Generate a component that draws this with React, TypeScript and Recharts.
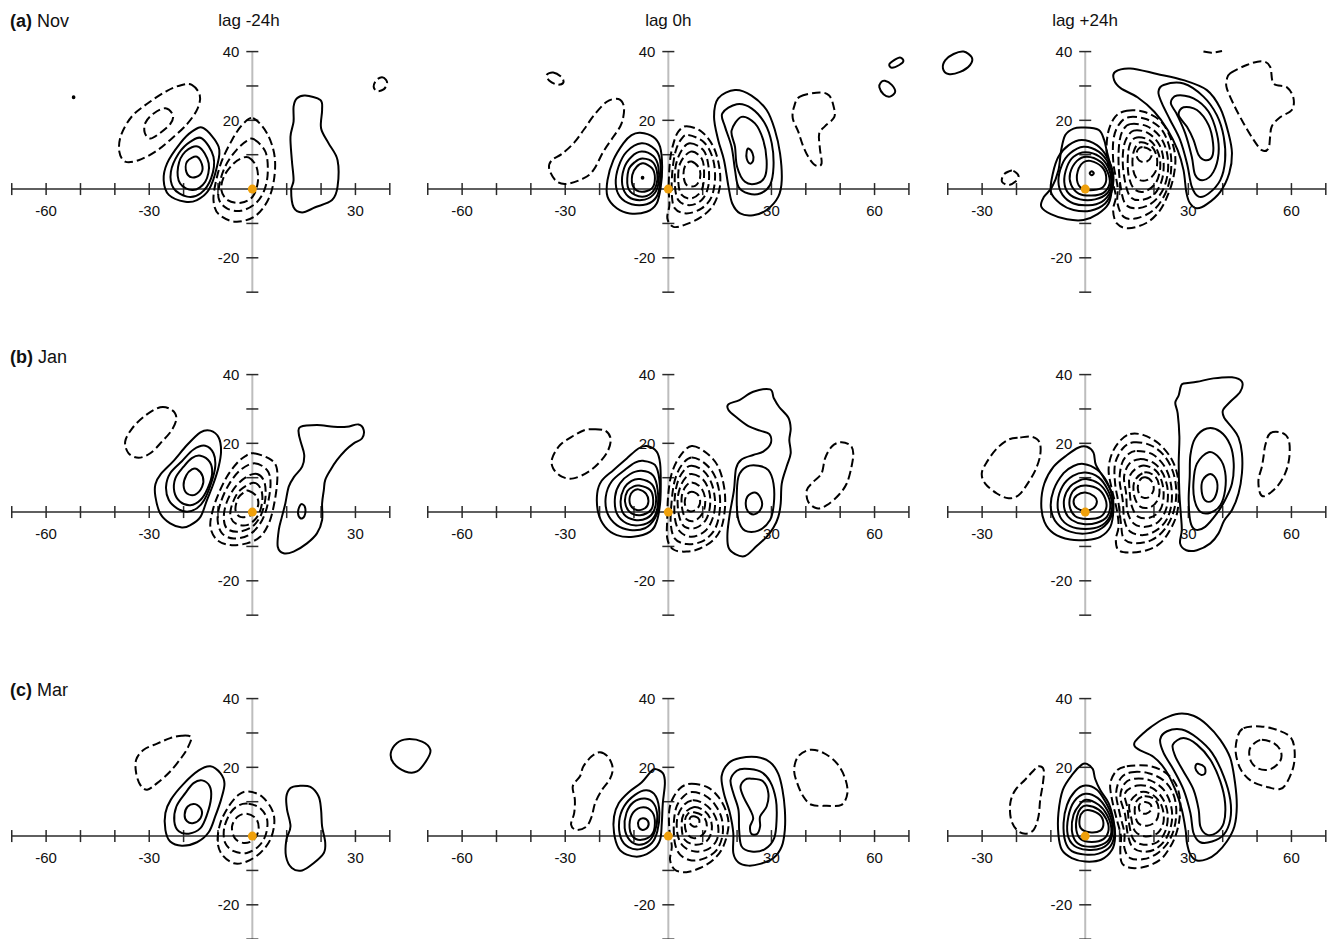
import React from 'react';
import { ComposedChart, Line, XAxis, YAxis, ReferenceLine, ReferenceDot } from 'recharts';

// ---------- data: contour loops as flat [x1,y1,x2,y2,...] (deg lon, deg lat) ----------
// (a) Nov
const novM24Pos = [
  [-14.2,17.7, -9.8,12.3, -10.3,6.5, -12.7,-0.3, -16.1,-3.2, -19.5,-3.7, -24.3,-1.7, -25.8,2.6, -24.8,7.5, -21,13.3, -17.6,16.7],
  [-14.6,14.7, -11.3,9.4, -12,3.1, -15.1,-1.3, -19,-2.2, -22.9,0.2, -23.7,5, -21.4,10.4, -18,13.8],
  [-15.6,12.3, -12.7,7.5, -13.7,2.1, -17.3,-0.3, -21,1.6, -21.6,6.5, -19.5,10.9],
  [-16.1,9.4, -14.5,6.5, -15.3,4.1, -17.6,3.4, -19.2,5, -19,8],
  [15.4,27.2, 19.8,25.9, 20.3,23, 20,17.7, 22.2,13.3, 24.8,8.4, 24.8,0.7, 23.2,-3.2, 18.3,-5.3, 14.5,-6.8, 12,-5.3, 11.3,-0.3, 12,2.6, 11.5,8.4, 11.1,15.2, 12,19.6, 12,24, 13,26.4],
  [-52,27, -51.75,26.7, -52,26.4, -52.25,26.7],
];
const novM24Neg = [
  [-17.6,30.3, -15.3,27.4, -15.9,23.5, -19,18.9, -23.9,14.3, -28.2,10.9, -33.1,8.4, -37,8, -38.7,10.9, -38.2,15.7, -35,21.2, -30.2,25.1, -24.8,28.6, -20.5,30.3],
  [-25.3,23.5, -23.1,21.5, -23.9,18.9, -27,16.2, -29.7,14.7, -31.3,16.4, -31.1,19.3, -28.7,22],
  [0.2,20.6, 4.3,16.2, 6.5,9.4, 6.2,2.1, 4.3,-3.7, 0.6,-8, -4.9,-9.5, -9.8,-7.3, -11.3,-3.2, -10.5,2.6, -8.8,8.4, -5.9,14.3, -3,18.6],
  [0.4,14.5, 3.8,10.9, 4.5,5, 3.5,-0.3, 0.9,-4.2, -3.3,-6.3, -7.4,-5.6, -9.8,-2.7, -9.3,2.6, -7.4,7.5, -4.5,11.5, -1.6,14],
  [-1.1,9.2, 1.2,6.5, 1.6,2.1, 0.1,-2.2, -3.3,-4, -7.2,-3.2, -9,-0.3, -8.3,3.6, -5.9,7, -3.5,8.8],
  [37.7,32.5, 38.9,31.8, 39.2,30.6, 38.2,29, 36.3,28.5, 35.3,29.8, 36.1,31.7],
];
const nov0Pos = [
  [-8.2,16.4, -4.4,15.2, -2.4,12.3, -1.8,6.5, -2.2,0.7, -3.4,-4.2, -6.3,-6.6, -11.2,-7.1, -15,-5.6, -17.7,-2.2, -17.7,2.6, -16,8.4, -13.1,13.3, -10.7,15.7],
  [-7.8,13.3, -3.9,11.6, -2.4,8.4, -2.4,2.1, -3.4,-2.2, -6.3,-4.4, -10.7,-4.4, -14.1,-2.2, -15.3,1.6, -14.5,6.5, -12.1,10.9],
  [-7.8,10.9, -4.4,9.6, -2.9,6.5, -2.9,1.6, -4.4,-1.7, -7.8,-3.2, -11.6,-2.2, -13.4,1.2, -12.9,6, -10.7,9.4],
  [-7.5,8.9, -4.4,7.7, -3.2,4.1, -3.9,0.2, -6.3,-2, -9.7,-1.7, -11.8,0.7, -11.6,5.5, -9.7,7.9],
  [-7.3,7.5, -4.7,6, -3.9,3.1, -4.8,0.2, -7.8,-0.8, -10.2,0.7, -10.5,4.1, -9.2,6.5],
  [-7.5,3.6, -7.25,3.3, -7.5,3.0, -7.75,3.3],
  [19.4,28.8, 24.2,27.2, 28.6,23, 31,17.2, 32.5,10.4, 33,2.6, 32,-2.2, 28.6,-6.1, 24.7,-7.6, 20.9,-7.1, 18.6,-4.2, 17.5,0.7, 16.2,8.4, 14.5,14.3, 13.3,21, 14.5,26.4],
  [19.9,24.7, 24.2,23.5, 28.1,19.1, 30.1,13.3, 30.6,6.5, 29.6,1.2, 26.7,-1.3, 23.3,-1.3, 20.4,0.7, 19.4,5.5, 18.4,12.3, 16.5,18.1, 15.7,22],
  [21.3,21, 25.2,19.1, 27.6,14.3, 28.6,8.4, 28.1,3.6, 25.7,1.6, 22.3,2.1, 20,6.5, 19.4,12.3, 18.4,17],
  [23.3,11.8, 24.5,10.4, 24.7,8.4, 23.8,7.4, 22.8,8.9, 22.8,10.9],
  [67.4,38.3, 68.4,37.3, 67.2,36.1, 65,35.3, 64.3,36.3, 65.7,37.5],
  [63,31.5, 65,30.3, 66,28.3, 64.5,26.9, 62.6,27.6, 61.4,29.6, 61.8,31],
];
const nov0Neg = [
  [5.3,18.3, 9.7,16.7, 13.1,12.3, 14.8,6.5, 15,0.7, 13.1,-4.7, 9.7,-8, 5.3,-10.2, 1.5,-11, -0.3,-8.5, 0.3,-4.7, 0.1,0.7, 0.5,8.4, 1.5,13.3, 2.9,16.7],
  [5.8,15.7, 10.2,13.8, 12.8,9.4, 13.6,3.6, 12.6,-2.2, 9.7,-5.6, 5.3,-7.1, 1.9,-5.6, 1,-1.3, 1.2,5.5, 2.2,11.3, 3.9,14.7],
  [6.3,13.3, 10.2,11.3, 11.7,6.5, 11.6,0.7, 9.7,-3.2, 6.1,-4.7, 2.9,-3.2, 1.9,1.2, 2.2,7, 3.9,11.3],
  [6.5,10.9, 9.7,8.9, 10.4,4.6, 9.7,-0.3, 6.8,-2.7, 3.9,-1.7, 2.9,2.1, 3.4,7.4],
  [6.8,8, 9,6, 9.2,3.1, 7.8,0.9, 5.3,1.2, 4.4,4.1, 5,7],
  [38.3,26.9, 44.1,28.1, 46.8,27.2, 48,24.4, 48.3,21, 45.6,18.3, 43.9,16.2, 44.1,11.8, 44.6,7.5, 43.2,6.7, 41.2,8.6, 39.3,12.3, 37.8,16.7, 36.2,20.6, 36.6,24],
  [-14.5,26.2, -12.9,23.8, -13.6,19.1, -16,15.2, -18.9,10.9, -21.8,5.5, -24.7,3.1, -29.6,1.5, -32.7,2.4, -34.7,6, -33.9,8.4, -31,10.2, -27.4,13.5, -24.5,17.4, -21.6,21.5, -17.9,25.4],
  [-33.5,33.9, -31,32.5, -30.6,30.9, -32.3,30.4, -34.6,31.5, -35.4,33.2],
];
const nov24Pos = [
  [-0.5,17.9, 3.9,17.2, 5.5,14.3, 6.3,10.9, 7.5,6, 7.8,0.7, 6.8,-4.2, 3.6,-7.3, -0.5,-9, -5.3,-8.8, -10,-7.3, -12.8,-5.1, -12.1,-2.4, -9.7,0.5, -7.8,5.5, -7,11.3, -5.8,15.7, -3.4,17.6],
  [-1,14.3, 3.4,12.8, 6.3,9.4, 8.1,4.6, 7.8,-0.3, 5.8,-4.2, 1.5,-6.3, -3.4,-6.1, -7.3,-4.2, -10,-0.8, -9.4,4.6, -7.8,9.4, -4.8,12.8],
  [-0.5,12.3, 3.9,10.9, 6.8,7.5, 8.1,3.6, 7.3,-0.8, 4.8,-3.7, 1,-4.7, -3.4,-4.2, -6.6,-1.7, -7.8,2.1, -6.8,7, -4.4,10.4],
  [0,10.7, 4.2,9.4, 6.8,6, 7.6,2.1, 6.3,-1.3, 2.9,-3, -1.5,-3, -4.8,-1.3, -6.1,2.1, -5.3,6.5, -3.4,9.4],
  [0.5,9.4, 4.4,8, 6.5,5, 7.1,1.6, 5.3,-1.1, 1.9,-1.9, -1.9,-1.3, -4.1,1.2, -4.4,4.6, -2.4,8.2],
  [1.5,8.2, 4.8,6.5, 6.1,3.6, 5.3,0.7, 2.4,-0.3, -1,0.2, -2.4,2.6, -1.9,6, -0.5,7.8],
  [1.9,5.2, 2.5,4.6, 1.9,4.0, 1.3,4.6],
  [8.7,34.1, 13.1,35.1, 20.9,33.5, 28.6,31.7, 35.4,28.8, 39.3,23.5, 41.7,16.2, 42.7,10.4, 41.9,4.6, 39.3,-0.8, 35.4,-4.4, 32.5,-5.6, 30.4,-4, 29.4,-0.8, 28.6,5.5, 26.9,11.3, 24,17.2, 20.1,22.5, 15.2,26.7, 10.4,29.3, 8.4,31.7],
  [22.8,30.3, 28.6,30.7, 34.4,26.9, 38.3,21.5, 40.3,15.2, 40.7,8.4, 39.3,2.6, 35.9,-1.3, 33,-2.2, 31,0.7, 29.6,7.5, 27.6,14.3, 24.7,20.1, 22.3,25, 21.3,28.3],
  [26.7,27.2, 31.5,26.4, 35.9,22.5, 38.3,16.2, 38.8,10.4, 37.3,5, 34.4,2.6, 32,4.1, 31,9.4, 29.1,16.2, 26.7,21.7, 24.9,25.1],
  [28.6,23.8, 32.5,23, 35.9,18.6, 37.2,13.3, 36.9,9.4, 34.9,8.4, 33,9.9, 31.5,14.3, 29.6,18.1, 27.2,21.5],
  [-35.4,40, -33,38.3, -33.5,36.1, -36.4,34.1, -39.8,33.5, -41.4,35.1, -40.7,37.5, -38.3,39.3],
];
const nov24Neg = [
  [12.1,22.8, 17,22.5, 21.8,19.9, 24.7,15.2, 26.2,9.4, 25.7,3.6, 24.2,-1.3, 21.8,-6.1, 17.9,-9.8, 12.6,-11.4, 9.2,-10, 8.1,-6.1, 8.9,-2.2, 7.8,2.6, 6.3,9.4, 6.6,16.2, 8.7,21],
  [12.6,20.9, 17.9,20.3, 22.3,17.2, 24.7,11.3, 24.9,4.6, 23.3,-1.3, 19.9,-6.1, 15,-8.5, 11.2,-8.1, 9.4,-4.2, 9.4,0.7, 8.2,7.5, 8.2,14.3, 9.7,18.6],
  [13.1,18.9, 17.9,18.3, 21.8,15.2, 23.8,10.4, 24,4.6, 22.3,-0.8, 18.9,-4.4, 14.5,-5.6, 11.6,-4.2, 10.3,0.7, 9.7,7.5, 9.9,13.3, 10.9,17],
  [14.1,17, 18.4,16.2, 21.6,12.8, 22.8,8, 22.3,2.6, 19.9,-1.7, 16,-3.2, 13.1,-2.2, 11.6,2.1, 10.9,8.4, 11.6,13.8],
  [15,15, 18.9,14.1, 21.3,10.4, 21.8,6, 20.4,1.6, 17,-0.8, 14.1,0.2, 12.6,4.1, 12.4,9.4, 13.1,13.3],
  [16,13.6, 19.4,12.3, 20.9,8.9, 20.4,5, 17.9,2.6, 15,3.1, 13.8,6.5, 14.1,10.9],
  [17,12.2, 18.9,11.3, 19.2,9.4, 17.7,7.9, 15.7,8.3, 14.9,10, 15.5,11.7],
  [42.2,33.7, 47,36.1, 51.4,37.2, 53.8,35.6, 54.8,30.7, 58.7,29.6, 60.6,26.4, 60.1,23, 56.7,20.9, 54.3,18.3, 53.8,15.2, 53.3,11.8, 51.4,11.3, 49,14.3, 46.1,19.1, 43.4,24.2, 41.2,29.3, 41.2,31.9],
  [-20.9,5.3, -19.4,3.8, -20.4,2.1, -22.3,1.2, -24.2,2.1, -23.8,4.1, -22.3,5.1],
];
const nov24NegOpen = [
  [34.4,40, 36.9,39.7, 39.8,40.2],
];

// (b) Jan
const janM24Pos = [
  [-12.2,23.7, -9.8,21.7, -9.1,17.8, -9.8,13.2, -11.3,8.3, -13.2,3.5, -15.1,-1.4, -18,-3.8, -20.5,-4.5, -23.9,-3.3, -26.8,-0.4, -28.2,4.5, -28.2,8.1, -26.6,11.1, -22.9,14.9, -19,19.5, -15.1,23.2],
  [-13.7,19.3, -11.3,17.1, -10.8,13.2, -12,8.3, -14,3.5, -16.1,1.1, -19,0.1, -21.9,1.1, -24.3,3.5, -25.1,7.4, -23.9,11.3, -20.5,14.8, -17.1,18.2],
  [-15.1,16.4, -12.4,14.6, -11.7,11.2, -13,6.9, -15.1,3.5, -18,2, -21,3, -22.7,5.9, -22.4,9.8, -20,13.2, -17.6,15.7],
  [-16.1,12.5, -14.4,10.3, -14.6,7.4, -16.6,5.1, -19,5.4, -20,7.8, -19.2,10.7, -17.6,12.4],
  [14,24.8, 18.8,25.3, 23.7,24.8, 27.5,24.8, 30.9,25.5, 32.4,23.9, 31.9,21.4, 29.5,20, 27.1,18, 24.6,15.1, 22.7,12.2, 21.2,9.3, 20.8,6.4, 20.3,2.5, 20.3,-2.3, 18.8,-6.2, 15.9,-9.1, 12,-11.5, 9.1,-12, 7.4,-10.1, 7.7,-5.2, 8.6,-1.4, 9.6,2.5, 10.6,7.4, 12.2,10.3, 14.5,13.2, 15.1,16.6, 14.2,20, 13.5,22.9],
  [14.5,2.3, 15.4,1.1, 15.1,-1.3, 14,-1.8, 13.3,-0.4, 13.7,1.6],
];
const janM24Neg = [
  [-26.8,30.5, -23.4,29.7, -22.1,27.3, -23.4,23.9, -26.3,20.5, -29.7,17.1, -33.1,15.8, -36,17.1, -37,20.5, -35,24.3, -31.4,27.9],
  [0.4,17.1, 4.8,15.6, 7,13.2, 7.2,8.3, 6.2,1.6, 4.8,-3.3, 2.3,-7.2, -1.6,-9.1, -6.4,-9.6, -10.3,-8.1, -12.2,-4.3, -11.5,0.6, -9.8,5.4, -7.4,10.3, -4.5,14.2, -2,16.3],
  [0.6,14.2, 4.3,12.2, 5.3,8.3, 4.3,1.6, 2.3,-3.3, -1.1,-6.7, -5.4,-7.7, -8.8,-6.2, -10.1,-2.3, -9.3,2.5, -6.9,7.9, -3.5,12.2],
  [1.4,11.1, 3.5,8.8, 3.8,4, 2.5,-0.9, -0.1,-4.3, -4,-5.7, -7.4,-4.8, -8.3,-1.4, -7.4,3, -4.9,7.4, -1.6,10.3],
  [0.4,8.5, 2.6,6.4, 2.8,2.5, 1.4,-1.4, -1.6,-3.8, -4.9,-3.3, -6.4,-0.9, -5.6,3, -3.5,6.4],
  [-1.1,6.2, 1.3,4.5, 1.6,1.6, -0.4,-0.9, -3.5,-1.4, -4.9,0.6, -4.2,4, -2.5,5.7],
];
const jan0Pos = [
  [-6.3,19.2, -3.4,17.6, -2.4,14.2, -2.2,8.3, -2.4,2.5, -3.4,-2.8, -5.3,-5.7, -10.2,-7.2, -15,-6.7, -18.4,-4.3, -20.4,-0.2, -20.7,5.4, -19.4,9.1, -16,12.2, -12.1,15.6, -8.7,18.5],
  [-7.3,14.9, -3.9,13.7, -2.6,9.3, -2.6,2.5, -3.9,-1.8, -6.8,-4.7, -11.2,-5.2, -15,-3.8, -17.7,-0.4, -18.2,4.5, -16.5,8.9, -12.6,12.3, -9.7,14.4],
  [-7.8,12, -4.4,10.6, -3.1,6.4, -3.2,1.1, -4.8,-2.3, -8.2,-3.8, -12.1,-3.3, -15,-0.4, -15.5,4.5, -14.1,8.3, -11.2,11],
  [-8.2,9.6, -4.8,8.1, -3.6,4.5, -4.1,0.6, -6.3,-1.8, -9.7,-2.3, -12.9,-0.7, -13.9,3, -12.9,6.9, -10.7,9.1],
  [-8.5,7.7, -5.3,6.4, -4.4,3.5, -5.1,0.6, -8.2,-0.9, -11.3,0.1, -12.6,3, -11.9,6.1, -10.2,7.4],
  [-8.7,6.6, -6.5,5.4, -5.8,3, -6.8,1.1, -9.2,0.6, -11,2, -11.2,4.5, -10.2,6.1],
  [24.7,35, 29.6,35.7, 30.7,33.1, 32.3,30.5, 34.9,27.5, 35.6,24.3, 35.2,21, 35.6,17.1, 34.4,13.2, 33,8.3, 32.7,2.5, 32,-1.4, 30.6,-4.5, 28.6,-7.2, 25.7,-9.9, 22.3,-12.8, 19.4,-12.2, 17.5,-10.3, 17.2,-6.2, 17.9,-0.4, 19.1,6.4, 19.7,12.7, 21.3,15.3, 24.7,16.6, 27.6,17.6, 29.8,20, 29.4,22.7, 26.7,23.7, 23.3,25, 19.9,27.5, 17.5,29.7, 17.5,31.4, 20.7,32.6],
  [26.2,13.5, 29.1,12.2, 30.6,8.3, 30.7,2.5, 29.6,-2.3, 26.2,-5.4, 22.3,-5.4, 20.4,-2.3, 19.9,3.5, 20.4,10.3, 22.8,13.2],
  [25.2,5.7, 26.9,4, 27.2,1.6, 25.7,-0.4, 23.8,-0.4, 22.6,1.6, 23,4.5],
];
const jan0Neg = [
  [6.8,19.2, 11.2,17.1, 14.5,13.2, 16.2,7.4, 16.5,1.6, 15.5,-4.3, 13.1,-8.1, 9.2,-10.6, 5.3,-11.5, 1.5,-10.9, -0.3,-7.7, -0.3,-1.4, 0,5.4, 1,11.3, 3.4,16.3],
  [6.8,15.9, 10.7,14.1, 13.6,10.3, 15,4.5, 14.7,-1.4, 13.1,-5.7, 9.7,-8.6, 5.3,-9.3, 1.9,-7.7, 0.7,-3.3, 1,3.5, 1.9,9.3, 3.9,13.7],
  [6.8,13.5, 10.2,12, 12.6,8.3, 13.6,3, 12.9,-1.8, 10.7,-5.5, 6.8,-7.2, 3.4,-5.7, 1.9,-1.8, 1.9,4.5, 2.9,9.3, 4.8,12.4],
  [6.8,11.1, 10,9.6, 11.9,5.9, 12.1,1.6, 10.9,-2.3, 8,-4.6, 4.8,-4.3, 3.2,-1.4, 2.7,3.5, 3.5,7.4, 5.1,10.1],
  [6.8,8.6, 9.4,7.2, 10.7,4, 10.2,0.1, 7.8,-2.5, 5.3,-2.1, 4.1,0.6, 3.9,4.5, 5,7.4],
  [6.8,5.9, 8.8,4.8, 9.2,2.5, 8,0.6, 5.8,0.4, 4.8,2.5, 5.3,4.9],
  [-21.8,24.1, -18.4,23.7, -16.8,21.4, -17.5,18, -19.9,14.6, -23.3,11.7, -27.6,9.8, -31,10.3, -33.5,12.7, -33.8,15.6, -31.5,19.5, -27.6,22.2, -24.2,23.9],
  [50,20.3, 52.9,19.5, 53.8,17.1, 53.3,13.2, 51.9,8.3, 49.5,4.9, 46.1,2, 43.2,1.1, 40.7,3, 40.3,6.4, 42.2,8.8, 44.6,11.3, 45.6,15.6, 47.5,19],
];
const jan24Pos = [
  [0.5,19, 2.4,17.3, 3.1,13.7, 5.3,10.1, 7.8,5.4, 8.2,0.6, 7.3,-4.3, 4.4,-7.2, 0.5,-8.1, -4.4,-8, -9.2,-6.2, -11.9,-2.8, -12.8,2.5, -11.9,8.3, -9.2,13.2, -5.3,16.6, -1.9,18.8],
  [-0.5,14, 3.4,12.4, 6.3,8.8, 8,3.5, 7.5,-1.4, 4.8,-4.7, 0.5,-6.2, -4.4,-5.7, -8.2,-3.3, -10,1.1, -9.2,6.4, -6.3,11.3, -3.4,13.4],
  [0,11.5, 3.9,10.1, 6.5,6.6, 7.8,2.5, 7.1,-1.4, 4.4,-4.1, 0,-4.9, -4.4,-4.1, -7.3,-1.4, -8,3, -6.6,7.5, -3.6,10.5],
  [0.3,9.6, 3.9,8.3, 6.3,5.4, 7.3,2, 6.3,-1.4, 3.4,-3.1, -0.5,-3.5, -3.9,-2.3, -5.8,0.1, -6.1,4, -4.4,7.4, -1.9,9.1],
  [0.3,7.7, 3.9,6.6, 5.8,4, 6.1,1.1, 4.4,-1.4, 0.5,-2, -2.9,-1.2, -4.5,1.6, -4.2,4.9, -2.4,7.1],
  [0,5.7, 2.6,4.6, 3.4,3, 2.4,1.1, 0,0.4, -2.4,1.1, -3.4,3, -2.4,4.9],
  [28.6,37.4, 32.5,37.9, 37.3,38.9, 42.7,39.2, 45.6,37.9, 45.1,35, 42.2,32.1, 40.1,29.7, 40.4,27.5, 42.7,24.6, 44.6,21.7, 45.6,17.1, 45.6,11.3, 44.6,5.4, 42.7,0.6, 40.4,-2.5, 38.8,-6.2, 36.4,-9.1, 32.5,-11.1, 29.4,-11.1, 27.6,-9.1, 28.1,-5.2, 27.8,-0.4, 27.4,5.4, 27.2,14.2, 27.4,21.9, 26.9,28.7, 26.2,31.8, 27.2,34, 27.8,36.5],
  [35.4,24.3, 39.3,23.4, 42.2,19.5, 43.2,14.2, 42.7,8.3, 40.7,3.5, 38.3,-0.4, 34.9,-4.3, 32,-5.1, 30.6,-2.8, 30.1,3.5, 30.4,10.3, 30.6,16.6, 32,21.5],
  [35.9,17.4, 39.1,15.6, 40.7,11.7, 40.7,6.4, 39.3,2, 36.4,-0.2, 33.5,0.1, 31.8,3.5, 31.5,8.8, 32.5,14.1],
  [36.4,11.1, 38.2,9.3, 38.3,5.9, 36.9,3.3, 35,3.3, 33.9,5.9, 34.2,9.3],
];
const jan24Neg = [
  [13.1,22.7, 17,22.4, 21.3,20, 24.7,16.1, 26.7,11.3, 27.2,5.4, 26.7,-0.4, 24.7,-5.2, 21.8,-9.1, 17.9,-11.1, 13.1,-11.8, 9.7,-11.1, 8.9,-8, 9.7,-4.3, 9.2,0.6, 7.8,6.4, 6.8,12.2, 7.8,17.1, 10.2,20.8],
  [14.1,20.3, 18.9,19.5, 22.8,16.6, 25.5,11.8, 26.5,5.9, 25.7,0.1, 23.3,-4.8, 19.4,-8.1, 14.5,-9.1, 11.2,-7.7, 10.4,-3.3, 9.7,2.5, 8.7,8.3, 8.7,14.1, 10.9,18.5],
  [15,17.8, 19.4,16.9, 22.8,13.7, 24.7,9.3, 25.2,3.5, 23.9,-1.8, 20.9,-5.2, 17,-6.7, 13.1,-5.7, 11.4,-2.3, 10.9,3.5, 10,9.3, 10.7,14.2, 12.6,16.9],
  [15.8,15.4, 19.9,14.3, 22.6,11.2, 24,6.4, 23.6,1.1, 21.3,-2.8, 17.5,-4.3, 14.1,-3.3, 12.3,0.1, 11.9,5.4, 11.3,10.3, 12.8,14],
  [16.5,13.5, 20.4,12.2, 22.3,8.8, 22.8,4.5, 21.8,0.6, 18.9,-1.6, 15.5,-1.4, 13.6,1.6, 12.9,6.4, 13.1,10.8],
  [17.2,11.5, 20.4,10.3, 21.6,6.9, 21.1,3.5, 18.9,1.4, 16,1.6, 14.3,4.5, 14.3,8.9],
  [17.5,10.1, 19.4,8.8, 19.9,6.4, 18.4,4.3, 16.2,4.5, 15.3,6.9, 15.9,9.3],
  [-18.9,21.7, -15.5,21.9, -13.3,20.3, -13.1,16.6, -14.5,12.2, -17,7.9, -19.4,4.9, -22.3,4, -25.7,5.4, -29.1,8.3, -30.1,11.3, -28.6,14.6, -25.7,18.5, -22.3,21.1],
  [53.8,22.9, 57.2,23.1, 59.2,21, 59.4,16.1, 58.2,11.3, 55.8,7.4, 52.4,4.7, 50.9,5.4, 50.4,9.3, 51.4,13.2, 51.9,16.3, 52.4,19.5],
];

// (c) Mar
const marM24Pos = [
  [-12.2,20.3, -9.3,18.3, -8.1,15.2, -9.1,10.6, -10.8,5.7, -12.7,1.1, -16.1,-1.8, -20.5,-2.8, -23.9,-1.6, -25.3,1.8, -25.3,6.7, -23.7,10.6, -20,15.2, -15.6,19.1],
  [-14.6,16.2, -12.4,14.5, -12,11.1, -13.2,6.2, -15.1,2.3, -18.5,0.7, -21.4,1.4, -22.7,4.3, -22.1,8.6, -19.5,12.5, -17.1,15.4],
  [-16.6,9.3, -14.8,7.7, -15.1,5.2, -17.1,3.8, -19,4.3, -19.7,6.2, -18.8,8.6],
  [13.5,14.6, 16.9,14.3, 19.3,11.5, 20,7.7, 20.3,2.8, 21.2,-1.8, 20.8,-4.9, 17.8,-7.9, 14.5,-10, 11.5,-9.3, 9.8,-5.9, 9.9,-1.1, 11.1,2.8, 10.1,7.7, 9.9,11.5, 11.1,14],
  [45,28.2, 49.4,27.5, 51.8,25.1, 50.8,22.2, 47.9,18.8, 44.5,18.8, 41.1,21.2, 40.3,24.2, 42.1,27.1],
];
const marM24Neg = [
  [-20.5,29.2, -17.8,28.8, -18.7,25.9, -20.5,23, -23.9,18.8, -27.7,15.4, -30.6,13.5, -32.6,14.9, -33.8,18.3, -33.8,22.2, -31.6,25.1, -27.7,26.9, -23.9,28.5],
  [-1.1,13, 2.8,11.5, 5.7,7.7, 6.4,3.8, 5.2,-1.1, 2.3,-4.9, -1.6,-7.4, -5.4,-7.9, -8.8,-5.4, -10.1,-1.6, -9.3,3.8, -6.9,8.6, -4,12],
  [-1.1,9.4, 2.3,8.1, 4.3,4.8, 3.9,0.4, 1.8,-3, -1.6,-4.9, -5.4,-4.4, -7.9,-2, -8.2,2.3, -6.4,6.7, -4,8.9],
  [-1.6,6.5, 1.2,4.9, 1.8,1.8, 0.4,-1.1, -2.5,-2, -5.1,-0.6, -5.9,2.8, -4.3,5.6],
];
const mar0Pos = [
  [-3.9,19.5, -1.6,18.3, -1,15.4, -1.6,9.6, -1.9,3.8, -2.4,-1.1, -4.4,-4, -8.2,-5.9, -12.1,-5.4, -14.5,-3.5, -15.8,0.9, -15.8,5.7, -14.4,9.6, -11.6,12.7, -7.8,15.6, -5.3,18.5],
  [-6.3,13.3, -3.6,11.5, -2.6,6.7, -3.2,1.4, -4.8,-2, -8.2,-3.8, -11.6,-3.2, -13.8,-0.6, -14.3,4.3, -12.9,8.6, -9.7,12],
  [-6.8,10.9, -4.2,9.4, -3.2,5.7, -3.9,1.4, -5.8,-1.6, -8.7,-2.5, -11.3,-1.1, -12.7,2.3, -12.2,6.7, -10.2,9.8],
  [-7.3,8.4, -4.7,7, -3.9,3.8, -4.8,0.4, -7.8,-1.1, -10.4,-0.1, -11.3,3.3, -10.2,6.9],
  [-7.3,5.2, -5.9,4.3, -6,2.6, -7.5,1.8, -8.7,2.8, -8.6,4.5],
  [20.9,22.7, 25.7,23, 29.6,21.5, 32,18.1, 33.2,13.5, 33.9,7.7, 33.9,1.8, 33,-3, 30.6,-6.4, 26.7,-8.1, 23.3,-8.6, 20.4,-7.7, 18.9,-4.9, 18.9,0.9, 17.9,6.7, 16.2,12.3, 15.5,17.4, 17.5,21.2],
  [22.3,19.6, 26.7,18.8, 29.6,15.9, 31.3,10.6, 31.5,4.8, 30.8,-0.6, 28.1,-3.8, 24.2,-4.5, 21.3,-3, 20.6,1.8, 20.4,7.6, 18.9,12.5, 18.1,16.3, 19.9,19],
  [24.2,16.7, 27.6,15.9, 29.1,12.5, 28.6,8.6, 26.7,5.7, 26.7,2.8, 25.9,0.7, 24.2,0.6, 23.8,2.8, 24.7,5.2, 23.8,7.7, 22,11.1, 21,14.3, 22.3,16.4],
];
const mar0Neg = [
  [6.8,15.2, 11.2,14.3, 14.5,11.5, 16.8,7.2, 17.5,2.8, 16,-3, 13.1,-6.9, 9.2,-9.3, 5.3,-10.5, 1.9,-9.8, 0.5,-6.9, 1,-3, 0.3,1.8, 0.3,7.7, 1.6,11.5, 3.9,14.3],
  [6.8,12.8, 10.7,11.8, 13.6,9.1, 15.5,5.2, 15.8,0.4, 14.1,-4, 10.7,-6.4, 6.8,-7.1, 3.4,-5.4, 1.9,-2, 1.6,3.8, 2.4,8.6, 4.4,11.5],
  [7.1,10.4, 10.4,9.4, 13.1,6.7, 14.5,2.8, 14.1,-1.1, 11.6,-3.8, 7.8,-4.5, 4.4,-3, 2.7,0.4, 2.6,5.2, 4.4,8.9],
  [7.3,8.4, 10.4,7.4, 12.3,4.8, 12.6,1.4, 11,-1.6, 7.8,-2.5, 4.8,-1.1, 3.9,2.3, 4.4,6.2],
  [7.5,6.9, 10.2,5.7, 11.2,3, 10,0.4, 7.3,-0.6, 5.3,0.9, 4.8,4.3, 5.8,6.6],
  [7.8,5.7, 9,4.8, 8.7,3.1, 7.3,2.8, 6.1,4, 6.5,5.5],
  [-19.9,24.4, -17.5,23, -16.2,19.8, -17,16.6, -19.4,13.3, -21.3,9.6, -22.3,5.7, -23.8,2.8, -26.7,1.8, -28.3,3.3, -27.4,6.7, -27.2,10.6, -27.8,14.5, -25.7,17.4, -24.7,20.3, -22.3,23.2],
  [41.2,25.1, 45.1,24.2, 49,21.2, 51.4,16.9, 52.1,12.5, 50.4,9.1, 46.1,8.8, 41.7,9.1, 39.3,11.5, 37.5,15.4, 36.6,19.3, 37.8,23.2],
];
const mar24Pos = [
  [0.5,21, 2.2,19.5, 2.9,16.6, 4.4,13.3, 6.8,9.6, 8.2,4.8, 8.7,-0.1, 7.8,-4, 4.6,-6.9, 0,-7.4, -3.9,-6.4, -6.8,-4, -7.8,0.4, -7.8,6.7, -6.5,13.5, -3.6,18.1, -1,20.8],
  [0,14.7, 3.4,13.5, 5.8,10.1, 7.8,5.7, 8.5,0.9, 7.3,-3, 3.9,-5.1, 0,-5.4, -3.9,-4.4, -5.8,-1.6, -6.3,3.8, -5.3,9.1, -2.9,13.1],
  [0,12.3, 3.6,11.1, 6.3,7.7, 7.9,3.3, 7.4,-1.1, 4.8,-3.5, 0.5,-4, -3.2,-2.8, -5.1,0.4, -4.9,5.7, -3.2,10.1],
  [0.3,10.6, 3.9,9.1, 6.3,6.2, 7.6,2.3, 6.8,-1.1, 3.9,-2.8, 0,-3, -2.7,-1.6, -3.9,1.8, -3.4,6.2, -1.7,9.1],
  [0.5,8.9, 3.9,7.7, 6.1,5, 6.8,1.8, 5.3,-0.9, 1.9,-1.7, -1.3,-0.9, -2.6,1.8, -2.4,5.7, -1.3,8.1],
  [1.3,7.5, 4.2,6.2, 5.3,3.8, 4.4,1.6, 1.3,1.1, -1.3,2.3, -1.6,5.2, -0.5,7.2],
  [14.5,27.5, 17,30, 19.1,31.7, 22.8,34.1, 27.2,35.6, 31.5,35, 35.4,32.4, 39.3,28, 42.2,22.7, 43.6,15.4, 44.1,8.6, 43.4,2.8, 41.2,-1.6, 38.3,-4.9, 35.4,-6.7, 32.5,-7.1, 30.6,-5.4, 29.6,-2, 29.2,1.8, 28.1,7.7, 26.2,13.5, 23.3,19.3, 19.9,23, 16,24.9, 14.4,26.1],
  [23.8,30.5, 28.1,31, 32.5,28.6, 36.9,24.2, 40.3,17.4, 42.2,10.6, 42.2,4.8, 40.3,0.4, 36.9,-1.6, 33.5,-1.8, 31.5,0.9, 30.6,6.7, 28.6,13.5, 25.7,19.3, 22.8,24.2, 21.8,28.1],
  [28.6,28.5, 32.5,26.6, 36.4,22.2, 39.3,15.9, 40.7,9.6, 40.3,3.8, 38.1,0.9, 35.4,0.4, 33.5,2.8, 33,7.7, 31.5,13.5, 28.6,18.8, 26.2,23.2, 25.5,26.6],
  [33,21, 34.7,20.1, 34.9,18.3, 33.7,17.8, 32.3,19.1, 32.1,20.5],
];
const mar24Neg = [
  [12.1,20.3, 17.9,20.5, 22.8,18.8, 26.2,15.4, 27.6,10.6, 27.4,4.8, 26.2,-0.1, 24.2,-4, 21.8,-6.9, 17.9,-8.8, 13.6,-9.3, 10.7,-7.9, 10.2,-4, 10.4,-0.1, 9.2,4.8, 7.8,10.6, 7.3,15.4, 9.2,19.1],
  [13.6,18.6, 18.4,18.3, 22.8,16.2, 25.5,12.5, 26.5,7.7, 25.9,2.3, 24,-2, 20.9,-5.1, 17,-6.7, 13.1,-6.4, 11.4,-3.5, 11.4,0.9, 10,6.7, 9,12.5, 10.4,16.9],
  [14.5,16.7, 18.9,16.2, 22.8,13.5, 24.9,9.1, 25.2,4.3, 23.6,-0.6, 20.4,-3.8, 16.5,-4.5, 13.6,-3, 12.3,0.9, 11.6,6.2, 10.2,11.5, 11.6,15.4],
  [15.2,14.7, 19.4,14, 22.6,10.8, 24,6.2, 23.3,1.4, 20.9,-1.8, 17,-2.5, 14.1,-1.1, 12.9,2.8, 12.3,8.1, 11.6,12.5],
  [16.2,12.8, 19.9,11.8, 22.3,8.6, 22.8,4.3, 21.1,0.9, 17.5,-0.1, 14.5,1.4, 13.4,5.2, 12.9,9.6],
  [17.3,11.6, 20.3,10.6, 21.4,7.6, 20.6,4.4, 18,3, 15.4,3.8, 14.4,7, 15,10.3],
  [17.5,9.9, 19,9.2, 19.2,7.6, 17.7,6.5, 16.1,6.9, 15.6,8.5, 16.2,9.6],
  [46.1,31.4, 50.9,31.9, 55.8,30.9, 59.7,28.8, 60.9,25.1, 60.6,20.3, 58.7,15.6, 56.7,13.7, 52.9,14.3, 48.5,15.9, 45.3,19.3, 43.8,24.2, 44.3,28.8],
  [51.4,28, 54.8,27.1, 56.9,24.7, 56.7,21.8, 53.8,19.4, 50.4,19.6, 48.2,21.8, 47.8,25.1, 49.5,27.2],
  [-13.6,20.3, -12.1,19.3, -12.3,15.4, -13.1,10.6, -13.6,5.7, -15,1.8, -17.5,0.7, -19.9,1.8, -21.6,4.9, -21.8,9.6, -20.4,13.3, -17.5,16.4, -15,19.1],
];

// ---------- axis / tick values ----------
const xTickMarks = [-70, -60, -50, -40, -30, -20, -10, 10, 20, 30, 40, 50, 60, 70];
const xTickLabels = [-60, -30, 30, 60];
const yTickMarks = [-30, -20, -10, 10, 20, 30, 40];
const yTickLabels = [40, 20, -20];
const rowTitles = ['Nov', 'Jan', 'Mar'];
const rowLetters = ['(a)', '(b)', '(c)'];
const colTitles = ['lag -24h', 'lag 0h', 'lag +24h'];

// ---------- layout ----------
const K = 3.437; // px per degree
const COLS = [
  { x0: 252, dom: [-74, 54], axis: [-70, 40] },
  { x0: 668.3, dom: [-74, 72], axis: [-70, 70] },
  { x0: 1085, dom: [-44, 72], axis: [-40, 70] },
];
const ROWS = [189, 512, 836.3];
const YDOM = [-31, 42.5];
const TICK = 1.75;
const FONT = '"Liberation Sans", Arial, Helvetica, sans-serif';
const DASH = '8.5 4';

// closed Catmull-Rom spline curve factory (d3-style)
function closedSpline(context: any) {
  let pts: number[][] = [];
  return {
    areaStart() {},
    areaEnd() {},
    lineStart() { pts = []; },
    point(x: number, y: number) { pts.push([+x, +y]); },
    lineEnd() {
      const n = pts.length;
      if (!n) return;
      context.moveTo(pts[0][0], pts[0][1]);
      for (let i = 0; i < n; i++) {
        const p0 = pts[(i - 1 + n) % n];
        const p1 = pts[i];
        const p2 = pts[(i + 1) % n];
        const p3 = pts[(i + 2) % n];
        context.bezierCurveTo(
          p1[0] + (p2[0] - p0[0]) / 6, p1[1] + (p2[1] - p0[1]) / 6,
          p2[0] - (p3[0] - p1[0]) / 6, p2[1] - (p3[1] - p1[1]) / 6,
          p2[0], p2[1]
        );
      }
      context.closePath();
    },
  };
}

const toPts = (flat: number[]) => {
  const out: { x: number; y: number }[] = [];
  for (let i = 0; i < flat.length; i += 2) out.push({ x: flat[i], y: flat[i + 1] });
  return out;
};

const PANELS = [
  { row: 0, col: 0, pos: novM24Pos, neg: novM24Neg, open: [] as number[][] },
  { row: 0, col: 1, pos: nov0Pos, neg: nov0Neg, open: [] as number[][] },
  { row: 0, col: 2, pos: nov24Pos, neg: nov24Neg, open: nov24NegOpen },
  { row: 1, col: 0, pos: janM24Pos, neg: janM24Neg, open: [] as number[][] },
  { row: 1, col: 1, pos: jan0Pos, neg: jan0Neg, open: [] as number[][] },
  { row: 1, col: 2, pos: jan24Pos, neg: jan24Neg, open: [] as number[][] },
  { row: 2, col: 0, pos: marM24Pos, neg: marM24Neg, open: [] as number[][] },
  { row: 2, col: 1, pos: mar0Pos, neg: mar0Neg, open: [] as number[][] },
  { row: 2, col: 2, pos: mar24Pos, neg: mar24Neg, open: [] as number[][] },
];

function Panel({ p }: { p: any }) {
  const c = COLS[p.col];
  const y0 = ROWS[p.row];
  const w = (c.dom[1] - c.dom[0]) * K;
  const h = (YDOM[1] - YDOM[0]) * K;
  const left = c.x0 + c.dom[0] * K;
  const top = y0 - YDOM[1] * K;
  const xt = xTickMarks.filter((v) => v >= c.axis[0] && v <= c.axis[1]);
  const xl = xTickLabels.filter((v) => v > c.axis[0] && v < c.axis[1]);
  const lineCommon = { dataKey: 'y', dot: false, activeDot: false, isAnimationActive: false, legendType: 'none' as any, stroke: '#000', strokeWidth: 2 };
  return (
    <div style={{ position: 'absolute', left, top, width: w, height: h }}>
      <ComposedChart width={w} height={h} margin={{ top: 0, right: 0, bottom: 0, left: 0 }}>
        <XAxis type="number" dataKey="x" domain={c.dom} hide allowDataOverflow height={0} />
        <YAxis type="number" dataKey="y" domain={YDOM} hide allowDataOverflow width={0} />
        <ReferenceLine segment={[{ x: 0, y: -30 }, { x: 0, y: 40 }]} stroke="#bdbdbd" strokeWidth={2} />
        <ReferenceLine segment={[{ x: c.axis[0], y: 0 }, { x: c.axis[1], y: 0 }]} stroke="#2a2a2a" strokeWidth={1.5} />
        {xt.map((v) => (
          <ReferenceLine key={'xt' + v} segment={[{ x: v, y: -TICK }, { x: v, y: TICK }]} stroke="#2a2a2a" strokeWidth={1.5} />
        ))}
        {yTickMarks.map((v) => (
          <ReferenceLine key={'yt' + v} segment={[{ x: -TICK, y: v }, { x: TICK, y: v }]} stroke="#2a2a2a" strokeWidth={1.5} />
        ))}
        {p.pos.map((f: number[], i: number) => (
          <Line key={'p' + i} data={toPts(f)} type={closedSpline as any} {...lineCommon} />
        ))}
        {p.neg.map((f: number[], i: number) => (
          <Line key={'n' + i} data={toPts(f)} type={closedSpline as any} {...lineCommon} strokeDasharray={DASH} />
        ))}
        {p.open.map((f: number[], i: number) => (
          <Line key={'o' + i} data={toPts(f)} type="natural" {...lineCommon} strokeDasharray={DASH} />
        ))}
        {xl.map((v) => (
          <ReferenceDot key={'xl' + v} x={v} y={0} r={0} fill="none" stroke="none"
            label={{ value: String(v), position: 'bottom', offset: 16, fill: '#111', fontSize: 15 }} />
        ))}
        {yTickLabels.map((v) => (
          <ReferenceDot key={'yl' + v} x={0} y={v} r={0} fill="none" stroke="none"
            label={{ value: String(v), position: 'left', offset: 13, fill: '#111', fontSize: 15 }} />
        ))}
        <ReferenceDot x={0} y={0} r={4.5} fill="#EFA00B" stroke="none" />
      </ComposedChart>
    </div>
  );
}

export default function App() {
  const rowBase = [26.5, 363, 695.5];
  return (
    <div style={{ position: 'absolute', left: 0, top: 0, width: 1328, height: 939, overflow: 'hidden', background: '#fff', fontFamily: FONT }}>
      {PANELS.map((p, i) => (
        <Panel key={i} p={p} />
      ))}
      <svg width={1328} height={939} style={{ position: 'absolute', left: 0, top: 0, pointerEvents: 'none' }}>
        {colTitles.map((t, i) => (
          <text key={t} x={i === 0 ? 249 : COLS[i].x0} y={25.5} textAnchor="middle" fontSize={17} fill="#111" fontFamily={FONT}>{t}</text>
        ))}
        {rowTitles.map((t, i) => (
          <text key={t} x={10} y={rowBase[i]} fontSize={18} fill="#111" fontFamily={FONT}>
            <tspan fontWeight="bold">{rowLetters[i]}</tspan>
            <tspan> {t}</tspan>
          </text>
        ))}
      </svg>
    </div>
  );
}
